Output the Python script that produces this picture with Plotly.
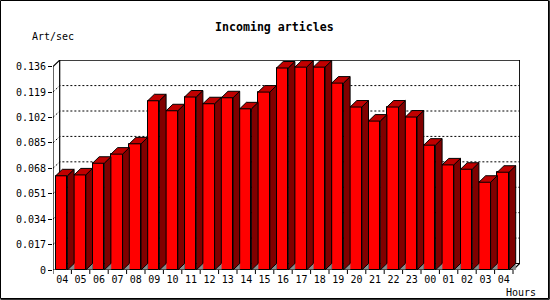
import plotly.graph_objects as go

# ---- data ----
hours = ["04", "05", "06", "07", "08", "09", "10", "11", "12", "13", "14", "15",
         "16", "17", "18", "19", "20", "21", "22", "23", "00", "01", "02", "03", "04"]
values = [0.0630, 0.0636, 0.0714, 0.0775, 0.0844, 0.1132, 0.1065, 0.1157, 0.1112,
          0.1152, 0.1078, 0.1190, 0.1351, 0.1357, 0.1357, 0.1250, 0.1090, 0.0996,
          0.1090, 0.1023, 0.0835, 0.0703, 0.0674, 0.0587, 0.0654]
ytick_vals = [0, 0.017, 0.034, 0.051, 0.068, 0.085, 0.102, 0.119, 0.136]
ytick_text = ["0", "0.017", "0.034", "0.051", "0.068", "0.085", "0.102", "0.119", "0.136"]

# ---- geometry (pixel-derived) ----
W, H = 550, 300
ML, MR, MT, MB = 53, 30, 60, 30
PW, PH = W - ML - MR, H - MT - MB
CAT_PX = 18.4                      # px per category
Y_PX = 1495.0                      # px per unit
x0 = -0.5
xr = [x0, x0 + PW / CAT_PX]
yr = [0, PH / Y_PX]
DX = 6.7 / CAT_PX                  # depth offset (x units)
DY = 6.5 / Y_PX                    # depth offset (y units)
BAR_OFF = -0.5 + 2.7 / CAT_PX
BAR_W = 11.7 / CAT_PX
n = len(values)
xs = list(range(n))
x_end = x0 + n

FRONT = "#FF0000"
TOP = "#C00000"
SIDE = "#800000"
GRAY = "#8C8C8C"
MONO = "DejaVu Sans Mono, Liberation Mono, monospace"

fig = go.Figure()

# front faces
fig.add_trace(go.Bar(x=xs, y=values, offset=BAR_OFF, width=BAR_W,
                     marker=dict(color=FRONT, line=dict(color="black", width=1)),
                     hoverinfo="skip", showlegend=False))

top_x, top_y, side_x, side_y, tri_x, tri_y = [], [], [], [], [], []
for i, v in enumerate(values):
    L = i + BAR_OFF
    R = L + BAR_W
    top_x += [L, R, R + DX, L + DX, L, None]
    top_y += [v, v, v + DY, v + DY, v, None]
    side_x += [R, R, R + DX, R + DX, R, None]
    side_y += [0, v, v + DY, DY, 0, None]
    tri_x += [R, R + DX, R + DX, R, None]
    tri_y += [0, DY, 0, 0, None]

fig.add_trace(go.Scatter(x=tri_x, y=tri_y, mode="lines", fill="toself", fillcolor=GRAY,
                         line=dict(color=GRAY, width=0.5), hoverinfo="skip", showlegend=False))
fig.add_trace(go.Scatter(x=side_x, y=side_y, mode="lines", fill="toself", fillcolor=SIDE,
                         line=dict(color="black", width=1), hoverinfo="skip", showlegend=False))
fig.add_trace(go.Scatter(x=top_x, y=top_y, mode="lines", fill="toself", fillcolor=TOP,
                         line=dict(color="black", width=1), hoverinfo="skip", showlegend=False))

shapes = []
# dotted gridlines on the back wall
for t in ytick_vals[1:-1]:
    shapes.append(dict(type="path", xref="x", yref="y", layer="below",
                       path=f"M {x0},{t} L {x0 + DX},{t + DY} L {x_end + DX},{t + DY}",
                       line=dict(color="black", width=1, dash="2px,2px")))
ytop = ytick_vals[-1]
# back wall frame
shapes.append(dict(type="path", xref="x", yref="y", layer="below",
                   path=f"M {x0 + DX},{DY} L {x0 + DX},{ytop + DY} L {x_end + DX},{ytop + DY} "
                        f"L {x_end + DX},{DY} L {x_end},0",
                   line=dict(color="black", width=1.2)))
shapes.append(dict(type="line", xref="x", yref="y", layer="below",
                   x0=x0 + DX, y0=DY, x1=x_end + DX, y1=DY, line=dict(color="black", width=1)))
# front axes
shapes.append(dict(type="path", xref="x", yref="y", layer="above",
                   path=f"M {x0 + DX},{ytop + DY} L {x0},{ytop} L {x0},0 L {x_end},0",
                   line=dict(color="black", width=1.2)))
# x boundary ticks
for k in range(n + 1):
    shapes.append(dict(type="line", xref="x", yref="paper", layer="above",
                       x0=x0 + k, x1=x0 + k, y0=0, y1=-4 / PH,
                       line=dict(color="black", width=1)))
# outer border
def px(xp):
    return (xp - ML) / PW
def py(yp):
    return (H - MB - yp) / PH
shapes.append(dict(type="rect", xref="paper", yref="paper",
                   x0=px(0.5), x1=px(548.5), y0=py(0.5), y1=py(298.5),
                   line=dict(color="black", width=1)))
shapes.append(dict(type="line", xref="paper", yref="paper",
                   x0=px(549.3), x1=px(549.3), y0=py(0.5), y1=py(299.3),
                   line=dict(color="black", width=1)))
shapes.append(dict(type="line", xref="paper", yref="paper",
                   x0=px(0.5), x1=px(549.3), y0=py(299.3), y1=py(299.3),
                   line=dict(color="black", width=1)))

annotations = [
    dict(text="<b>Incoming articles</b>", xref="paper", yref="paper", x=px(274), y=py(27),
         showarrow=False, font=dict(family=MONO, size=11.6, color="black"),
         xanchor="center", yanchor="middle"),
    dict(text="Art/sec", xref="paper", yref="paper", x=px(30), y=py(37),
         showarrow=False, font=dict(family=MONO, size=10, color="black"),
         xanchor="left", yanchor="middle"),
    dict(text="Hours", xref="paper", yref="paper", x=px(504), y=py(292),
         showarrow=False, font=dict(family=MONO, size=10, color="black"),
         xanchor="left", yanchor="middle"),
]

fig.update_layout(
    width=W, height=H,
    margin=dict(l=ML, r=MR, t=MT, b=MB, pad=0),
    paper_bgcolor="white", plot_bgcolor="white",
    bargap=0, barmode="overlay",
    shapes=shapes, annotations=annotations,
    showlegend=False,
    xaxis=dict(range=xr, tickmode="array", tickvals=xs, ticktext=hours,
               showgrid=False, zeroline=False, showline=False, ticks="",
               ticklabelstandoff=2,
               tickfont=dict(family=MONO, size=10, color="black"), fixedrange=True),
    yaxis=dict(range=yr, tickmode="array", tickvals=ytick_vals, ticktext=ytick_text,
               showgrid=False, zeroline=False, showline=False, ticks="outside",
               ticklen=4, tickcolor="black", tickwidth=1,
               tickfont=dict(family=MONO, size=10, color="black"), fixedrange=True),
)

fig.write_html("out.html", config={"displayModeBar": False})
